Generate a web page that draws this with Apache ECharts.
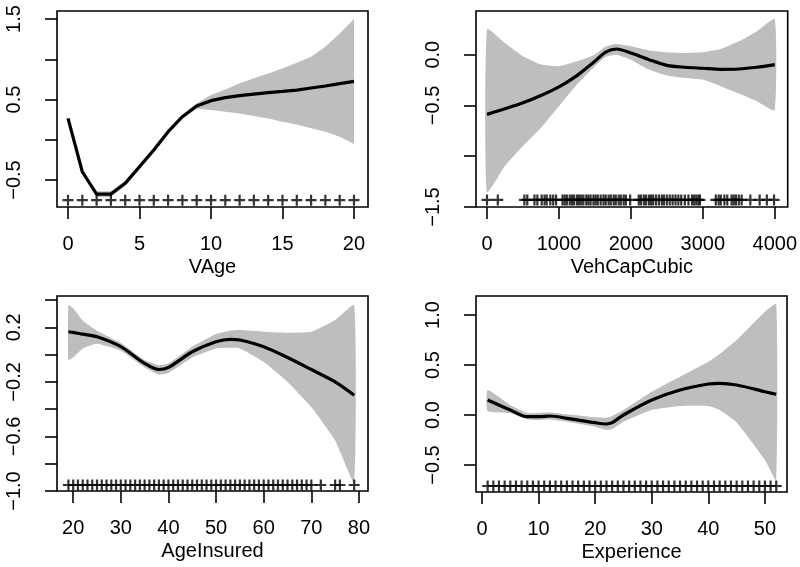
<!DOCTYPE html>
<html>
<head>
<meta charset="utf-8">
<script src="https://cdn.jsdelivr.net/npm/echarts@6/dist/echarts.min.js"></script>
<style>
  html, body { margin: 0; padding: 0; background: #fff; }
  #chart { width: 800px; height: 567px; }
</style>
</head>
<body>
<div id="chart"></div>
<script>
// VAge
var vageX = [0, 1, 2, 3, 4, 5, 6, 7, 8, 9, 10, 11, 12, 13, 14, 15, 16, 17, 18, 19, 20];
var vageFit = [0.266, -0.397, -0.674, -0.674, -0.541, -0.334, -0.127, 0.100, 0.287, 0.419, 0.486, 0.523, 0.548, 0.568, 0.585, 0.601, 0.618, 0.643, 0.668, 0.697, 0.726];
var vageUpper = [0.27, -0.39, -0.64, -0.64, -0.51, -0.30, -0.095, 0.13, 0.315, 0.455, 0.556, 0.626, 0.701, 0.763, 0.825, 0.887, 0.958, 1.032, 1.156, 1.322, 1.5];
var vageLower = [0.26, -0.40, -0.71, -0.71, -0.57, -0.36, -0.16, 0.07, 0.26, 0.385, 0.37, 0.349, 0.328, 0.295, 0.266, 0.225, 0.191, 0.142, 0.10, 0.038, -0.053];
var vageRug = [0, 1, 2, 3, 4, 5, 6, 7, 8, 9, 10, 11, 12, 13, 14, 15, 16, 17, 18, 19, 20];

// VehCapCubic
var vehX = [0, 250, 500, 750, 1000, 1250, 1500, 1650, 1800, 2000, 2250, 2500, 2750, 3000, 3250, 3500, 3750, 4000];
var vehFit = [-0.588, -0.533, -0.474, -0.402, -0.317, -0.206, -0.065, 0.025, 0.056, 0.016, -0.049, -0.105, -0.124, -0.134, -0.144, -0.141, -0.124, -0.098];
var vehUpper = [0.252, 0.114, -0.016, -0.098, -0.114, -0.065, 0.0, 0.08, 0.105, 0.082, 0.042, 0.023, 0.016, 0.023, 0.056, 0.131, 0.229, 0.35];
var vehLower = [-1.356, -1.095, -0.899, -0.719, -0.507, -0.294, -0.114, -0.02, 0.0, -0.049, -0.147, -0.206, -0.229, -0.245, -0.31, -0.382, -0.458, -0.546];
var vehRug = [0, 150, 520, 560, 660, 700, 760, 800, 830, 880, 920, 960, 1050, 1080, 1110, 1150, 1180, 1210, 1250, 1280, 1310,
  1340, 1380, 1410, 1440, 1480, 1510, 1540, 1580, 1620, 1650, 1690, 1720, 1760, 1790, 1830, 1860, 1900, 1930, 1990,
  2110, 2140, 2180, 2210, 2250, 2280, 2310, 2350, 2390, 2430, 2460, 2500, 2540, 2580, 2620, 2660, 2700, 2750, 2800,
  2850, 2880, 2910, 2940, 2960, 3180, 3220, 3250, 3300, 3340, 3400, 3430, 3460, 3500, 3540, 3660, 3790, 3890, 3990];

// AgeInsured
var ageX = [19, 20, 22, 25, 30, 35, 38, 40, 45, 50, 53, 55, 60, 65, 70, 75, 79];
var ageFit = [0.168, 0.163, 0.150, 0.131, 0.058, -0.065, -0.109, -0.094, 0.021, 0.094, 0.112, 0.107, 0.058, -0.021, -0.109, -0.200, -0.298];
var ageUpper = [0.364, 0.34, 0.25, 0.175, 0.085, -0.04, -0.077, -0.065, 0.058, 0.151, 0.175, 0.180, 0.168, 0.161, 0.168, 0.254, 0.364];
var ageLower = [-0.04, -0.021, 0.045, 0.08, 0.028, -0.094, -0.146, -0.134, -0.021, 0.045, 0.05, 0.045, -0.053, -0.200, -0.384, -0.629, -0.936];
var ageRug = [19, 20, 21, 22, 23, 24, 25, 26, 27, 28, 29, 30, 31, 32, 33, 34, 35, 36, 37, 38, 39, 40, 41, 42, 43, 44, 45,
  46, 47, 48, 49, 50, 51, 52, 53, 54, 55, 56, 57, 58, 59, 60, 61, 62, 63, 64, 65, 66, 67, 68, 69, 70, 72, 75, 76, 79];

// Experience
var expX = [1, 5, 8, 10, 12, 15, 20, 22, 23, 25, 30, 35, 40, 42, 45, 50, 52];
var expFit = [0.15, 0.05, -0.017, -0.017, -0.01, -0.033, -0.077, -0.09, -0.077, 0.0, 0.15, 0.25, 0.31, 0.317, 0.30, 0.233, 0.207];
var expUpper = [0.25, 0.10, 0.02, 0.023, 0.025, 0.007, -0.023, -0.027, -0.01, 0.05, 0.233, 0.383, 0.533, 0.61, 0.75, 1.033, 1.11];
var expLower = [0.04, 0.017, -0.045, -0.05, -0.045, -0.067, -0.117, -0.15, -0.14, -0.067, 0.05, 0.09, 0.09, 0.05, -0.075, -0.45, -0.65];
var expRug = [1, 2, 3, 4, 5, 6, 7, 8, 9, 10, 11, 12, 13, 14, 15, 16, 17, 18, 19, 20, 21, 22, 23, 24, 25, 26,
  27, 28, 29, 30, 31, 32, 33, 34, 35, 36, 37, 38, 39, 40, 41, 42, 43, 44, 45, 46, 47, 48, 49, 50, 51, 52];

// ticks
var vageXTicks = [0, 5, 10, 15, 20];
var vageYTicks = [-0.5, 0, 0.5, 1, 1.5];
var vageYLabels = [-0.5, 0.5, 1.5];
var vehXTicks = [0, 1000, 2000, 3000, 4000];
var vehYTicks = [-1.5, -1, -0.5, 0];
var vehYLabels = [-1.5, -0.5, 0];
var ageXTicks = [20, 30, 40, 50, 60, 70, 80];
var ageYTicks = [-1, -0.8, -0.6, -0.4, -0.2, 0, 0.2, 0.4];
var ageYLabels = [-1, -0.6, -0.2, 0.2];
var expXTicks = [0, 10, 20, 30, 40, 50];
var expYTicks = [-0.5, 0, 0.5, 1];
var expYLabels = [-0.5, 0, 0.5, 1];

var FONT = 'Liberation Sans, Arial, sans-serif';

var panels = [
  { name: 'VAge', x: vageX, fit: vageFit, up: vageUpper, lo: vageLower, rug: vageRug, rugY: -0.75,
    xr: [-0.77, 20.98], yr: [-0.835, 1.6], xt: vageXTicks, yt: vageYTicks, yl: vageYLabels, smooth: false,
    grid: { left: 57, top: 11, width: 311, height: 196 } },
  { name: 'VehCapCubic', x: vehX, fit: vehFit, up: vehUpper, lo: vehLower, rug: vehRug, rugY: -1.43,
    xr: [-153, 4180], yr: [-1.5, 0.43], xt: vehXTicks, yt: vehYTicks, yl: vehYLabels, smooth: 0.3,
    grid: { left: 476, top: 11, width: 312, height: 196 } },
  { name: 'AgeInsured', x: ageX, fit: ageFit, up: ageUpper, lo: ageLower, rug: ageRug, rugY: -0.956,
    xr: [16.6, 81.9], yr: [-1.0, 0.43], xt: ageXTicks, yt: ageYTicks, yl: ageYLabels, smooth: 0.3,
    grid: { left: 57, top: 296, width: 311, height: 195 } },
  { name: 'Experience', x: expX, fit: expFit, up: expUpper, lo: expLower, rug: expRug, rugY: -0.71,
    xr: [-1.06, 53.9], yr: [-0.77, 1.19], xt: expXTicks, yt: expYTicks, yl: expYLabels, smooth: 0.3,
    grid: { left: 476, top: 296, width: 311, height: 196 } }
];

function fmtY(v) {
  return v.toFixed(1).replace('-', '\u2212');
}
function fmtX(v) {
  return String(v);
}

var grids = [], xAxes = [], yAxes = [], series = [];

panels.forEach(function (p, i) {
  grids.push(Object.assign({ show: true, borderColor: '#000', borderWidth: 1.6, backgroundColor: 'transparent' }, p.grid));
  xAxes.push({
    type: 'value', gridIndex: i, min: p.xr[0], max: p.xr[1],
    name: p.name, nameLocation: 'middle', nameGap: 50,
    nameTextStyle: { fontSize: 20, color: '#000', fontFamily: FONT },
    axisLine: { show: false, onZero: false }, splitLine: { show: false },
    axisTick: { show: true, length: 12, customValues: p.xt, lineStyle: { color: '#000', width: 1.6 } },
    axisLabel: { customValues: p.xt, margin: 27, fontSize: 20, color: '#000', fontFamily: FONT, formatter: fmtX }
  });
  yAxes.push({
    type: 'value', gridIndex: i, min: p.yr[0], max: p.yr[1],
    axisLine: { show: false, onZero: false }, splitLine: { show: false },
    axisTick: { show: true, length: 12, customValues: p.yt, lineStyle: { color: '#000', width: 1.6 } },
    axisLabel: { customValues: p.yl, rotate: 90, margin: 33, fontSize: 20, color: '#000', fontFamily: FONT, formatter: fmtY }
  });

  var bandData = p.x.map(function (x, k) { return [x, p.lo[k], p.up[k]]; });
  var fitData = p.x.map(function (x, k) { return [x, p.fit[k]]; });
  var rugData = p.rug.map(function (x) { return [x, p.rugY]; });

  // confidence band drawn as one polygon: upper edge left->right, lower edge right->left
  series.push({
    type: 'custom', xAxisIndex: i, yAxisIndex: i, data: bandData, silent: true, z: 1,
    encode: { x: 0, y: [1, 2] },
    renderItem: function (params, api) {
      if (params.dataIndex !== 0) return null;
      var pts = [];
      bandData.forEach(function (d) { pts.push(api.coord([d[0], d[2]])); });
      for (var k = bandData.length - 1; k >= 0; k--) pts.push(api.coord([bandData[k][0], bandData[k][1]]));
      return {
        type: 'polygon',
        shape: { points: pts, smooth: p.smooth ? 0.15 : 0 },
        style: { fill: '#bebebe', stroke: null }
      };
    }
  });
  series.push({
    type: 'line', xAxisIndex: i, yAxisIndex: i, data: fitData,
    showSymbol: false, smooth: p.smooth, lineStyle: { color: '#000', width: 3.2 }, z: 3
  });
  series.push({
    type: 'scatter', xAxisIndex: i, yAxisIndex: i, data: rugData,
    symbol: 'path://M0,5L10,5M5,0L5,10', symbolSize: 11,
    itemStyle: { color: 'transparent', borderColor: '#000', borderWidth: 2.2 }, z: 4
  });
});

var chart = echarts.init(document.getElementById('chart'));
chart.setOption({
  animation: false,
  backgroundColor: '#fff',
  grid: grids,
  xAxis: xAxes,
  yAxis: yAxes,
  series: series
});
</script>
</body>
</html>
